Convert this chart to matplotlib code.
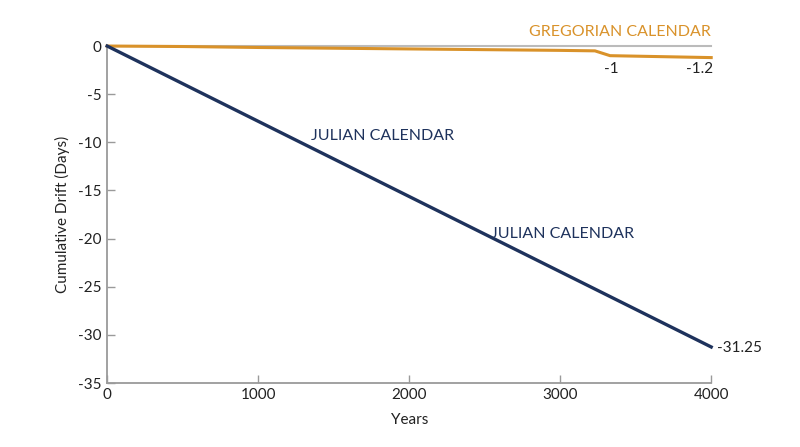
import matplotlib
matplotlib.use("Agg")
import matplotlib.pyplot as plt

years_julian = [0, 1300, 2560, 4000]
drift_julian = [0, -10.16, -20.0, -31.25]
years_greg = [0, 500, 1000, 2000, 3000, 3230, 3330, 4000]
drift_greg = [0, -0.05, -0.15, -0.3, -0.45, -0.5, -1.0, -1.2]
xticks = [0, 1000, 2000, 3000, 4000]
yticks = [0, -5, -10, -15, -20, -25, -30, -35]

navy = "#1e325c"
gold = "#d9922a"
gray = "#9a9a9a"
txt = "#222222"

plt.rcParams['font.family'] = ['Lato', 'DejaVu Sans']
plt.rcParams['axes.unicode_minus'] = False
fig = plt.figure(figsize=(8, 4.47), dpi=100)
ax = fig.add_axes([0.134, 0.143, 0.755, 0.754])
ax.set_xlim(0, 4000)
ax.set_ylim(-35, 0)

ax.axhline(0, color="#bbbbbb", lw=1.5, zorder=1, clip_on=False)
ax.plot(years_greg, drift_greg, color=gold, lw=2.2, zorder=3, clip_on=False)
ax.plot(years_julian, drift_julian, color=navy, lw=2.4, zorder=3, clip_on=False)

for s in ["top", "right"]:
    ax.spines[s].set_visible(False)
for s in ["left", "bottom"]:
    ax.spines[s].set_color(gray)
    ax.spines[s].set_linewidth(1.3)

ax.set_xticks(xticks)
ax.set_yticks(yticks)
ax.tick_params(axis="both", direction="in", color=gray, length=6, width=1,
               labelsize=11, labelcolor=txt)
ax.tick_params(axis="y", pad=4)
ax.set_xlabel("Years", fontsize=11, color=txt, labelpad=8)
ax.set_ylabel("Cumulative Drift (Days)", fontsize=11, color=txt, labelpad=6)

ax.text(1350, -9.3, "JULIAN CALENDAR", color=navy, fontsize=11.5, ha="left", va="center")
ax.text(2543, -19.5, "JULIAN CALENDAR", color=navy, fontsize=11.5, ha="left", va="center")
ax.text(4000, 1.5, "GREGORIAN CALENDAR", color=gold, fontsize=11.5, ha="right", va="center", clip_on=False)
ax.text(3337, -2.4, "-1", color=txt, fontsize=11, ha="center", va="center")
ax.text(4010, -2.4, "-1.2", color=txt, fontsize=11, ha="right", va="center")
ax.text(4040, -31.35, "-31.25", color=txt, fontsize=11, ha="left", va="center", clip_on=False)

fig.savefig("out.png", dpi=100)
